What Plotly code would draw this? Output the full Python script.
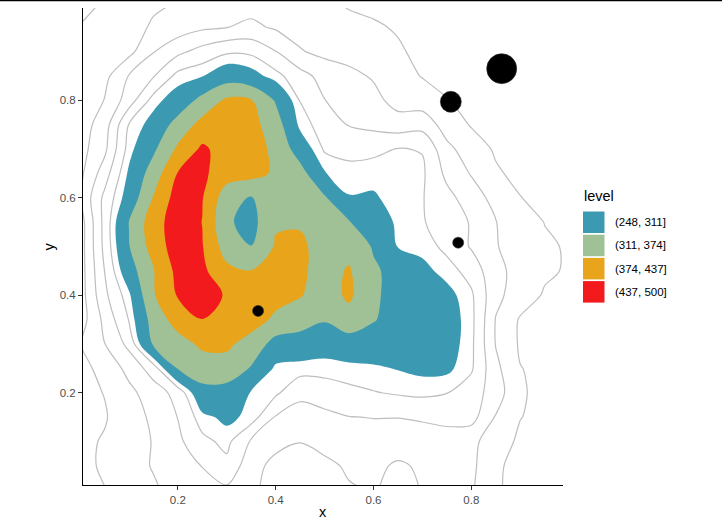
import plotly.graph_objects as go

# ---------------- data ----------------
grid_x = [0.0, 0.05, 0.1, 0.15, 0.2, 0.25, 0.3, 0.35, 0.4, 0.45, 0.5,
          0.55, 0.6, 0.65, 0.7, 0.75, 0.8, 0.85, 0.9, 0.95, 1.0]
grid_y = [0.0, 0.05, 0.1, 0.15, 0.2, 0.25, 0.3, 0.35, 0.4, 0.45, 0.5,
          0.55, 0.6, 0.65, 0.7, 0.75, 0.8, 0.85, 0.9, 0.95, 1.0]

# estimated surface values, one list per grid row (y), left to right (x)
z_y000 = [85, 99, 117, 134, 155, 168, 172, 145, 130, 125, 128, 136, 142, 132, 141, 148, 145, 103, 92, 88, 85]
z_y005 = [90, 105, 123, 143, 162, 181, 210, 155, 128, 124, 130, 146, 148, 135, 145, 152, 150, 103, 94, 90, 87]
z_y010 = [92, 103, 122, 142, 171, 210, 230, 175, 152, 141, 154, 163, 165, 158, 168, 172, 150, 119, 93, 88, 86]
z_y015 = [88, 97, 121, 148, 181, 238, 258, 238, 177, 163, 170, 179, 181, 181, 183, 185, 195, 137, 101, 90, 86]
z_y020 = [90, 101, 130, 160, 194, 290, 280, 245, 227, 190, 200, 210, 218, 224, 228, 221, 200, 160, 104, 90, 86]
z_y025 = [88, 112, 152, 199, 315, 345, 355, 305, 240, 235, 233, 238, 242, 250, 258, 257, 225, 150, 101, 92, 88]
z_y030 = [101, 139, 191, 318, 350, 385, 383, 355, 285, 280, 270, 280, 279, 270, 272, 270, 228, 138, 95, 88, 86]
z_y035 = [80, 150, 222, 337, 400, 436, 420, 395, 365, 340, 316, 350, 315, 285, 280, 272, 230, 138, 96, 90, 88]
z_y040 = [80, 170, 240, 368, 442, 470, 430, 400, 390, 378, 345, 385, 320, 290, 285, 262, 226, 150, 120, 96, 90]
z_y045 = [80, 180, 282, 370, 455, 450, 390, 376, 400, 385, 350, 380, 320, 290, 260, 235, 205, 150, 127, 106, 96]
z_y050 = [80, 190, 308, 400, 470, 440, 345, 312, 380, 385, 350, 355, 305, 246, 237, 210, 176, 142, 125, 106, 96]
z_y055 = [80, 192, 312, 410, 470, 436, 320, 290, 368, 368, 335, 314, 280, 240, 223, 200, 177, 141, 121, 99, 92]
z_y060 = [101, 190, 270, 377, 465, 440, 340, 305, 370, 345, 318, 250, 252, 236, 222, 192, 160, 126, 101, 88, 82]
z_y065 = [90, 160, 255, 340, 440, 450, 400, 395, 365, 335, 250, 235, 238, 233, 226, 170, 137, 105, 90, 84, 80]
z_y070 = [85, 130, 235, 300, 385, 448, 410, 400, 360, 280, 215, 206, 210, 222, 218, 150, 120, 95, 86, 80, 76]
z_y075 = [80, 120, 222, 265, 335, 395, 405, 395, 340, 238, 200, 178, 170, 158, 165, 122, 97, 85, 80, 75, 72]
z_y080 = [75, 101, 160, 235, 270, 330, 385, 378, 305, 218, 181, 160, 152, 125, 120, 102, 88, 80, 76, 72, 70]
z_y085 = [70, 88, 142, 177, 232, 246, 280, 265, 232, 195, 165, 150, 136, 115, 98, 86, 80, 76, 72, 70, 68]
z_y090 = [64, 75, 88, 138, 170, 195, 214, 212, 181, 143, 130, 125, 118, 104, 92, 84, 78, 74, 70, 68, 66]
z_y095 = [61, 68, 88, 104, 118, 133, 139, 148, 135, 125, 118, 110, 104, 97, 88, 80, 75, 71, 68, 66, 64]
z_y100 = [52, 62, 80, 95, 101, 110, 118, 125, 120, 112, 106, 96, 92, 88, 82, 76, 72, 69, 66, 64, 62]

z_rows = [z_y000, z_y005, z_y010, z_y015, z_y020, z_y025, z_y030, z_y035, z_y040,
          z_y045, z_y050, z_y055, z_y060, z_y065, z_y070, z_y075, z_y080, z_y085,
          z_y090, z_y095, z_y100]

level_breaks = [248, 311, 374, 437, 500]
level_labels = ["(248, 311]", "(311, 374]", "(374, 437]", "(437, 500]"]
level_colors = ["#3B9AB2", "#A0C196", "#E8A41B", "#F21A1D"]

line_start, line_end, line_step = 60, 220, 40   # grey contour lines below the filled bands

pt_x = [0.364, 0.773, 0.758, 0.862]
pt_y = [0.368, 0.508, 0.797, 0.865]
pt_size = [11, 11, 21, 30]

x_ticks = [0.2, 0.4, 0.6, 0.8]
y_ticks = [0.2, 0.4, 0.6, 0.8]

# ---------------- figure ----------------
FONT = "Liberation Sans, Arial, Helvetica, sans-serif"
W, H = 722, 527
ML, MR, MT, MB = 83, 159, 8, 42
PW, PH = W - ML - MR, H - MT - MB


def px(xp):
    return (xp - ML) / PW


def py(yp):
    return (H - MB - yp) / PH


step = level_breaks[1] - level_breaks[0]
white = "#FFFFFF"
cscale = [[0.0, white], [0.1, white]]
for i, c in enumerate(level_colors):
    lo = 0.1 + 0.2 * i
    hi = lo + 0.2 if i < len(level_colors) - 1 else 1.0
    cscale += [[lo, c], [hi, c]]

fig = go.Figure()

fig.add_trace(go.Contour(
    x=grid_x, y=grid_y, z=z_rows,
    autocontour=False,
    contours=dict(start=level_breaks[0], end=level_breaks[-1], size=step,
                  coloring="fill", showlines=False),
    colorscale=cscale, showscale=False,
    line=dict(width=0, smoothing=1),
    hoverinfo="skip",
))

fig.add_trace(go.Contour(
    x=grid_x, y=grid_y, z=z_rows,
    autocontour=False,
    contours=dict(start=line_start, end=line_end, size=line_step, coloring="none"),
    line=dict(color="#BEBEBE", width=1.2, smoothing=0.9),
    showscale=False, hoverinfo="skip",
))

fig.add_trace(go.Scatter(
    x=pt_x, y=pt_y, mode="markers",
    marker=dict(color="black", size=pt_size, opacity=1,
                line=dict(color="#2a2a2a", width=0.6)),
    hoverinfo="skip", showlegend=False,
))

axis_common = dict(
    showgrid=False, zeroline=False, showline=True, linecolor="black", linewidth=1,
    ticks="outside", ticklen=4, tickwidth=1, tickcolor="#333333",
    tickfont=dict(family=FONT, size=11.5, color="#4D4D4D"),
)

fig.update_layout(
    width=W, height=H,
    margin=dict(l=ML, r=MR, t=MT, b=MB),
    plot_bgcolor="white", paper_bgcolor="white",
    showlegend=False,
    font=dict(family=FONT),
    xaxis=dict(range=[0.0061, 0.9873], tickvals=x_ticks,
               ticktext=[f"{v:.1f}" for v in x_ticks], **axis_common),
    yaxis=dict(range=[0.0107, 0.9895], tickvals=y_ticks,
               ticktext=[f"{v:.1f}" for v in y_ticks], **axis_common),
)

annotations = [
    dict(text="x", xref="paper", yref="paper", x=0.5, y=py(512), xanchor="center",
         yanchor="middle", showarrow=False, font=dict(size=14.5, color="black", family=FONT)),
    dict(text="y", xref="paper", yref="paper", x=px(48), y=0.5, xanchor="center",
         yanchor="middle", textangle=-90, showarrow=False,
         font=dict(size=14.5, color="black", family=FONT)),
    dict(text="level", xref="paper", yref="paper", x=px(582), y=py(196), xanchor="left",
         yanchor="middle", showarrow=False, font=dict(size=14.5, color="black", family=FONT)),
]

shapes = []
key_top, key_h, key_gap = 211.5, 21.5, 1.7
for i, (lab, col) in enumerate(zip(level_labels, level_colors)):
    y0 = key_top + i * (key_h + key_gap)
    shapes.append(dict(type="rect", xref="paper", yref="paper",
                       x0=px(583), x1=px(604.5), y0=py(y0 + key_h), y1=py(y0),
                       fillcolor=col, line=dict(width=0)))
    annotations.append(dict(text=lab, xref="paper", yref="paper", x=px(612.5),
                            y=py(y0 + key_h / 2), xanchor="left", yanchor="middle",
                            showarrow=False, font=dict(size=11.5, color="black", family=FONT)))

# thin black rule at the very top of the image
shapes.append(dict(type="line", xref="paper", yref="paper", x0=px(0), x1=px(W),
                   y0=py(0.6), y1=py(0.6), line=dict(color="black", width=1.5)))

fig.update_layout(annotations=annotations, shapes=shapes)

fig.write_html("out.html", config={"displayModeBar": False},
               post_script="document.body.style.margin='0';document.body.style.overflow='hidden';")
